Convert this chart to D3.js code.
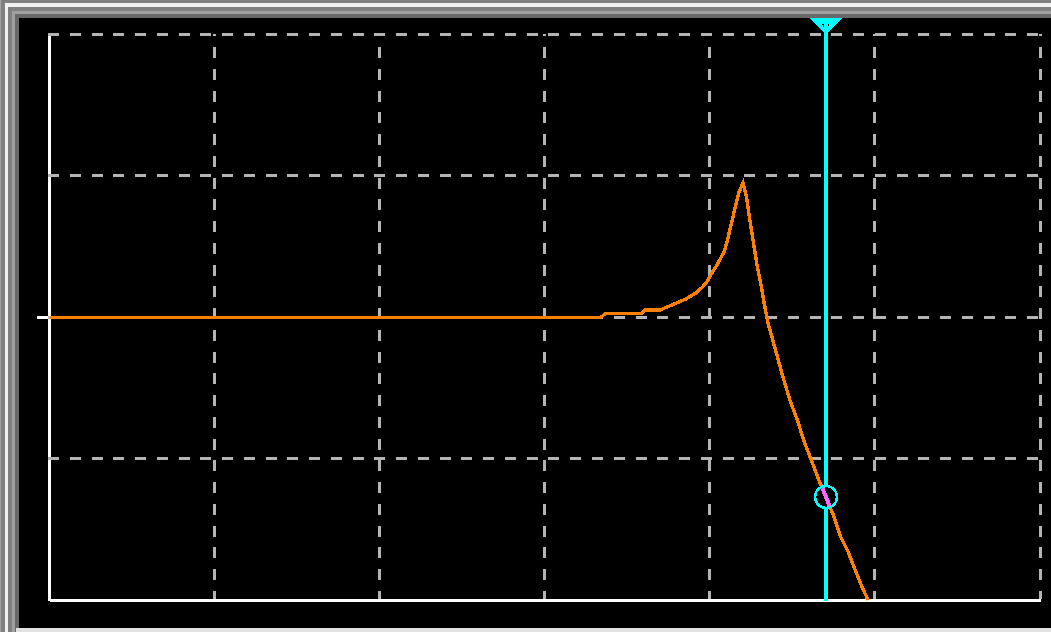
<!DOCTYPE html>
<html>
<head>
<meta charset="utf-8">
<script src="https://cdn.jsdelivr.net/npm/d3@7"></script>
<style>
  html, body { margin: 0; padding: 0; background: #808080; overflow: hidden; }
  svg { display: block; }
</style>
</head>
<body>
<svg id="chart" width="1051" height="632"></svg>
<script>
// Gain sweep of a resonant low-pass stage: gain (dB) against frequency (Hz, log axis)
const freqHz = [10, 21920, 23180, 38290, 40490, 49910, 56190, 63710, 72220, 77980,
  83960, 90660, 96810, 103090, 110990, 116870, 123070, 128860, 136280, 143100,
  150260, 158830, 166770, 175080, 183830, 193090, 204150, 214360, 225130, 249920,
  275520, 305960, 337340, 374530, 412950, 458580, 505610, 561290, 618890, 687030,
  757520, 841160, 908320];
const gainDb = [0, 0, 0.25, 0.25, 0.51, 0.51, 0.77, 1.03, 1.31, 1.55,
  1.78, 2.16, 2.56, 3.13, 3.74, 4.22, 4.71, 5.62, 6.81, 7.86,
  8.85, 9.48, 8.46, 6.80, 5.24, 3.69, 2.28, 0.87, -0.41, -2.31,
  -4.11, -5.88, -7.19, -8.85, -10.12, -11.53, -12.69, -14.00, -15.48, -16.54,
  -17.81, -19.12, -19.97];

// Cursor readout
const cursorHz = 505610;
const cursorDb = -12.69;

// Grid divisions
const xDecadesHz = [1e1, 1e2, 1e3, 1e4, 1e5, 1e6, 1e7];
const yDivisionsDb = [-20, -10, 0, 10, 20];
const yTickDb = [0];

const W = 1051, H = 632;
const svg = d3.select("#chart");

// Bevelled instrument frame
const bevel = [
  { x: 0,  y: 0,  c: "#a4a4a4" },
  { x: 1,  y: 0,  c: "#808080" },
  { x: 5,  y: 3,  c: "#f2f2f2" },
  { x: 8,  y: 7,  c: "#808080" },
  { x: 12, y: 11, c: "#a0a0a0" },
  { x: 15, y: 14, c: "#696969" }
];
svg.selectAll("rect.bevel").data(bevel).join("rect")
  .attr("class", "bevel")
  .attr("x", d => d.x).attr("y", d => d.y)
  .attr("width", d => W - d.x).attr("height", d => H - d.y)
  .attr("fill", d => d.c);
svg.append("rect").attr("x", 16).attr("y", 628).attr("width", W - 16).attr("height", 4).attr("fill", "#e3e3e3");
svg.append("rect").attr("x", 19).attr("y", 18).attr("width", W - 19).attr("height", 610).attr("fill", "#000");

// Scales
const x = d3.scaleLog().domain([xDecadesHz[0], xDecadesHz[xDecadesHz.length - 1]]).range([49.5, 1040]);
const y = d3.scaleLinear().domain([yDivisionsDb[0], yDivisionsDb[yDivisionsDb.length - 1]]).range([600.5, 34]);

const [x0, x1] = x.range();
const [yb, yt] = y.range();

svg.append("clipPath").attr("id", "plotClip")
  .append("rect").attr("x", x0).attr("y", yt - 2).attr("width", x1 - x0 + 2).attr("height", yb - yt + 2);

// Axes (white, heavy)
const yAxis = d3.axisLeft(y).tickValues(yTickDb).tickSize(12).tickSizeOuter(0).tickFormat("");
const gy = svg.append("g").attr("transform", `translate(${x0 - 0.5},0)`).call(yAxis);
const xAxis = d3.axisBottom(x).tickValues([]).tickSizeOuter(0);
const gx = svg.append("g").attr("transform", `translate(0,${yb - 0.5})`).call(xAxis);
[gx, gy].forEach(g => {
  g.selectAll("path, line").attr("stroke", "#fff").attr("stroke-width", 3).attr("shape-rendering", "crispEdges");
  g.selectAll("text").remove();
});

// Dashed grid
const grid = svg.append("g").attr("stroke", "#b4b4b4").attr("stroke-width", 3)
  .attr("stroke-dasharray", "11 10.76").attr("shape-rendering", "crispEdges");
grid.selectAll("line.h").data(yDivisionsDb.slice(1)).join("line")
  .attr("class", "h")
  .attr("x1", x0 - 1.5).attr("x2", x1 + 1.5)
  .attr("y1", d => y(d)).attr("y2", d => y(d));
grid.selectAll("line.v").data(xDecadesHz.slice(1)).join("line")
  .attr("class", "v")
  .attr("x1", d => x(d)).attr("x2", d => x(d))
  .attr("y1", yt).attr("y2", yb - 1.5)
  .attr("stroke-dashoffset", 8.76);

// Response trace
const pts = freqHz.map((f, i) => ({ f, g: gainDb[i] }));
const line = d3.line().x(d => x(d.f)).y(d => y(d.g));
svg.append("path")
  .datum(pts)
  .attr("clip-path", "url(#plotClip)")
  .attr("d", line)
  .attr("fill", "none")
  .attr("stroke", "#ff8000")
  .attr("stroke-width", 3.4)
  .attr("stroke-linejoin", "miter")
  .attr("shape-rendering", "crispEdges");

// Cursor
const cx = x(cursorHz), cy = y(cursorDb);
svg.append("line")
  .attr("x1", cx).attr("x2", cx).attr("y1", 18).attr("y2", yb)
  .attr("stroke", "#00ffff").attr("stroke-width", 4)
  .attr("shape-rendering", "crispEdges");

// Cursor flag at the top: outlined downward triangle
svg.append("path")
  .attr("d", `M${cx - 16.5},18 L${cx + 16.5},18 L${cx},34 Z M${cx - 4.5},24 L${cx + 3.5},24 L${cx - 0.5},30 Z`)
  .attr("fill", "#00ffff")
  .attr("fill-rule", "evenodd")
  .attr("shape-rendering", "crispEdges");

// Cursor ring on the trace
svg.append("clipPath").attr("id", "ringClip")
  .append("circle").attr("cx", cx).attr("cy", cy).attr("r", 10);
svg.append("circle")
  .attr("cx", cx).attr("cy", cy).attr("r", 11)
  .attr("fill", "#000")
  .attr("stroke", "#00ffff").attr("stroke-width", 2.5)
  .attr("shape-rendering", "crispEdges");
svg.append("path")
  .datum(pts)
  .attr("clip-path", "url(#ringClip)")
  .attr("d", line)
  .attr("fill", "none")
  .attr("stroke", "#ff66ff")
  .attr("stroke-width", 4)
  .attr("shape-rendering", "crispEdges");
</script>
</body>
</html>
